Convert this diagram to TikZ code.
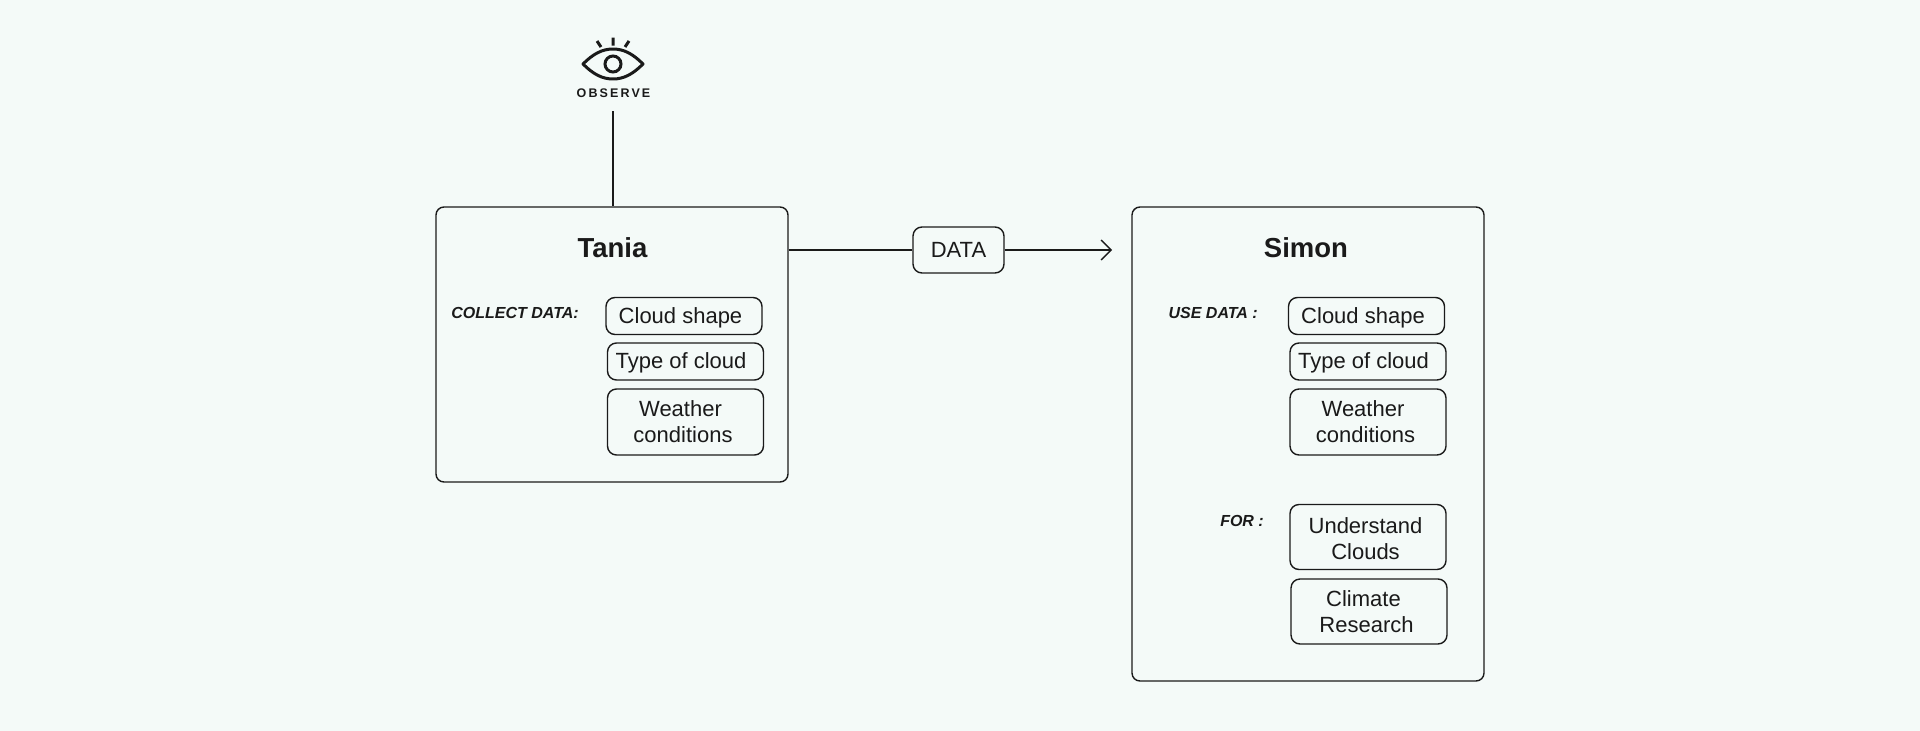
\documentclass[tikz,border=0pt]{standalone}
\usepackage{fontspec}
\setmainfont{Liberation Sans}
\usetikzlibrary{arrows.meta}
\definecolor{bgtint}{HTML}{F4FAF8}
\definecolor{inkdark}{HTML}{1A1A1A}
\tikzset{
  mainbox/.style={draw=inkdark, line width=1.4pt, rounded corners=8pt, minimum width=352pt, inner sep=0},
  itembox/.style={draw=inkdark, line width=1.4pt, rounded corners=9pt, minimum width=156pt, inner sep=0, align=center, text=inkdark, font=\fontsize{22}{26}\selectfont},
  whotext/.style={text=inkdark, inner sep=0, anchor=base, font=\fontsize{27.5}{30}\selectfont\bfseries},
  tagtext/.style={text=inkdark, inner sep=0, anchor=base east, font=\fontsize{16}{18}\selectfont\bfseries\itshape},
}
\begin{document}
\begin{tikzpicture}[x=1pt,y=-1pt]
\fill[bgtint] (0,0) rectangle (1920,731);
\node[mainbox, minimum height=275pt] (tania) at (612,344.5) {};
\node[mainbox, minimum height=474pt] (simon) at (1308,444) {};
\node[whotext] (tanianame) at (612.5,257) {Tania};
\node[whotext] (simonname) at (1306,257) {Simon};
\node[tagtext] (collect) at (579,318) {COLLECT DATA:};
\node[tagtext] (use) at (1258,318) {USE DATA :};
\node[tagtext] (for) at (1264,526) {FOR :};
\foreach \who/\dx in {tania/0,simon/682.5} {
\node[itembox, minimum height=37pt, text height=20pt, text depth=4.6pt] (\who cloud) at (684+\dx,316) {Cloud shape\hspace{7pt}};
\node[itembox, minimum height=37pt, text height=18pt, text depth=4.6pt] (\who type) at (685.5+\dx,361.5) {Type of cloud\hspace{9pt}};
\node[itembox, minimum height=66pt] (\who weather) at (685.5+\dx,422) {Weather\hspace*{10pt}\\conditions\hspace*{5pt}};
}
\node[itembox, minimum height=65pt] (understand) at (1368,537) {\rule{0pt}{18.5pt}Understand\hspace*{5pt}\\Clouds\hspace*{5pt}};
\node[itembox, minimum height=65pt] (climate) at (1369,611.5) {Climate\hspace*{11pt}\\Research\hspace*{5pt}};
\node[itembox, minimum width=91pt, minimum height=46pt] (data) at (958.5,250) {DATA};
% eye
\draw[inkdark, line width=3pt, line join=round] (583,64) .. controls (593,54) and (602,49) .. (613,49) .. controls (624,49) and (633,54) .. (643,64) .. controls (633,74) and (624,79) .. (613,79) .. controls (602,79) and (593,74) .. (583,64) -- cycle;
\draw[inkdark, line width=3pt] (613,64) circle (8pt);
\draw[inkdark, line width=3pt] (613,37.5)--(613,45.5) (597,41)--(601,47) (629,41)--(625,47);
\node[inner sep=0, text=inkdark] (observe) at (613.5,93) {\fontsize{12.5}{14}\selectfont\addfontfeature{LetterSpace=17}\bfseries OBSERVE};
% connectors
\coordinate (obsend) at (613,111);
\coordinate (dataend) at (1112,250);
\draw[inkdark, line width=1.4pt] (obsend)--(obsend |- tania.north);
\draw[inkdark, line width=1.4pt] (data.west -| tania.east)--(data.west);
\draw[inkdark, line width=1.4pt, -{Straight Barb[length=10pt,width=20pt]}] (data.east)--(dataend);
\end{tikzpicture}
\end{document}
